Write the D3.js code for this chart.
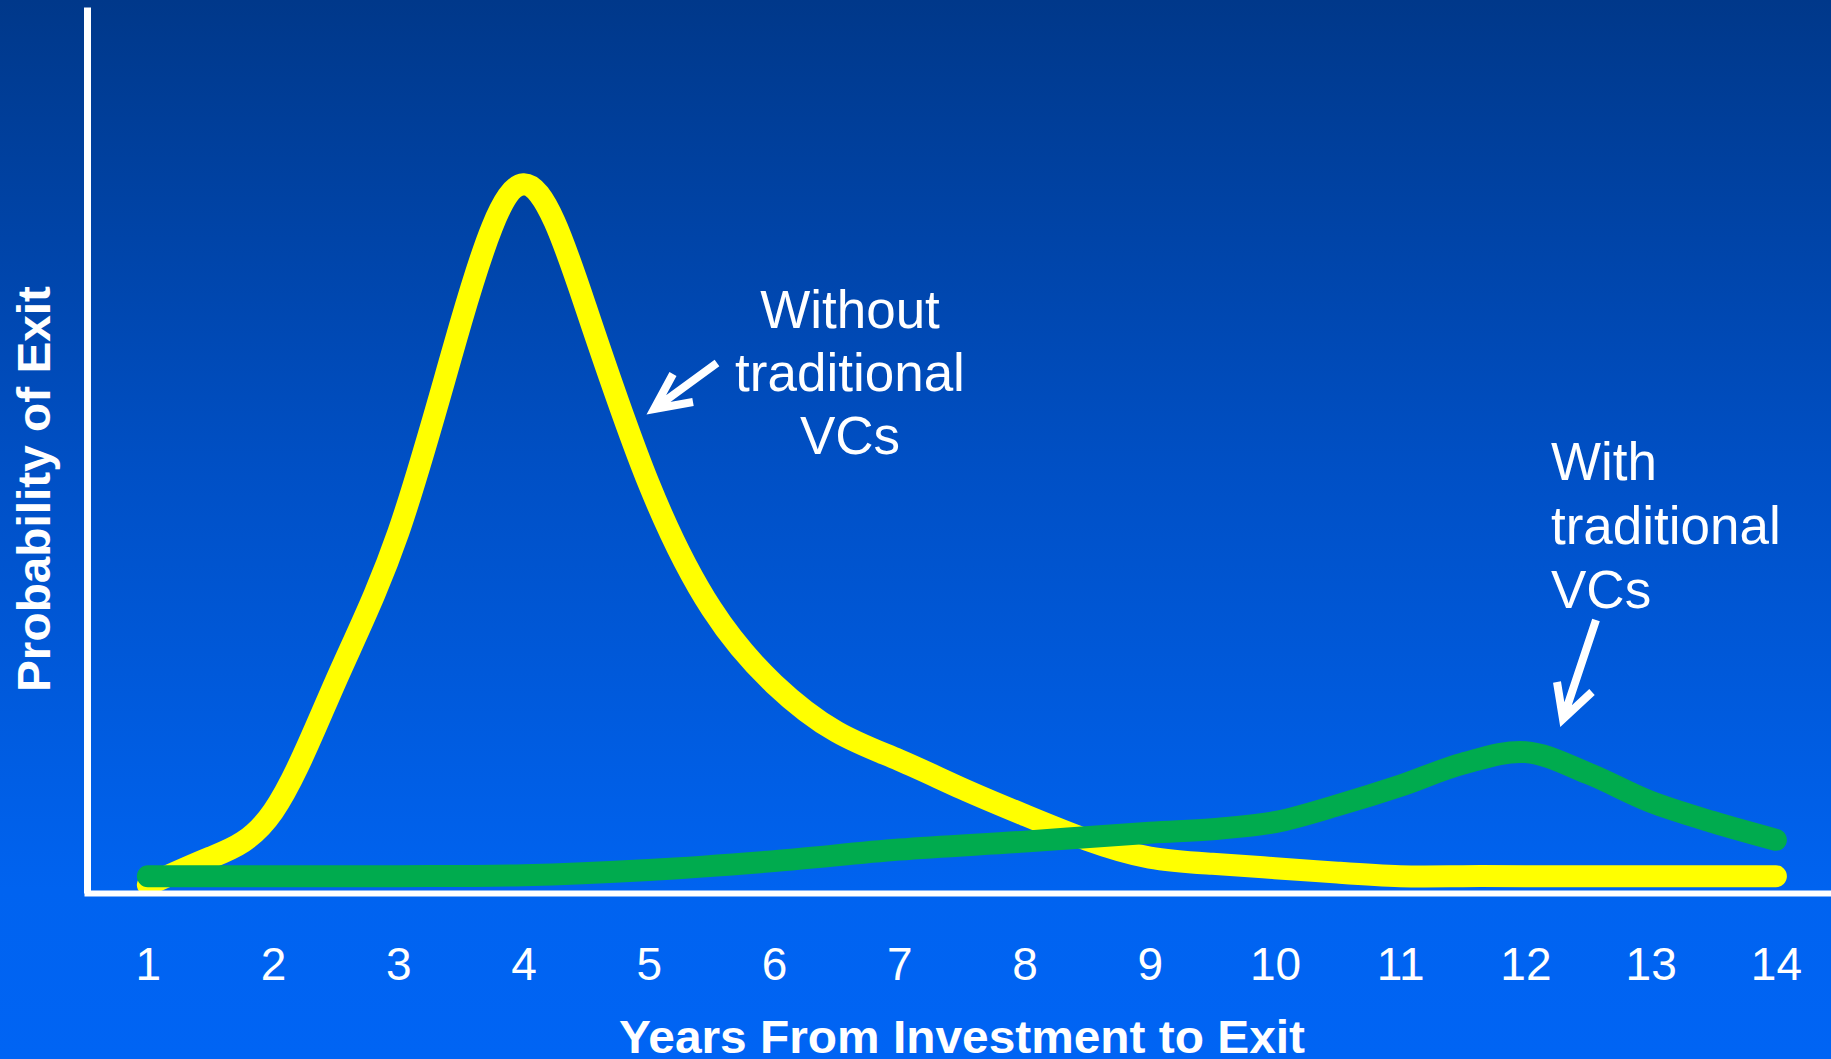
<!DOCTYPE html>
<html>
<head>
<meta charset="utf-8">
<script src="https://cdn.jsdelivr.net/npm/d3@7"></script>
<style>
  html, body { margin: 0; padding: 0; background: #0063f2; overflow: hidden; }
  svg { display: block; }
  .tick text { fill: #fff; font-family: "Liberation Sans", Arial, sans-serif; }
</style>
</head>
<body>
<div id="chart"></div>
<script>
// years from investment to exit (axis labels)
const yearTicks = [1, 2, 3, 4, 5, 6, 7, 8, 9, 10, 11, 12, 13, 14];

// "without traditional VCs" curve (probability, arbitrary units)
const withoutYears  = [1, 1.5, 2, 2.5, 3, 3.5, 4, 4.5, 5, 5.5, 6, 6.5, 7, 7.5, 8, 8.5, 9, 9.5, 10, 10.5, 11, 11.5, 12, 12.5, 13, 13.5, 14];
const withoutValues = [0.9, 4.0, 9.2, 23.9, 40.7, 64.4, 80.0, 66.0, 46.2, 32.1, 23.6, 18.2, 15.0, 11.8, 8.8, 6.0, 4.0, 3.3, 2.8, 2.3, 1.9, 1.9, 1.9, 1.9, 1.9, 1.9, 1.9];

// "with traditional VCs" curve
const withYears  = [1, 2, 3, 4, 5, 6, 7, 8, 9, 9.5, 10, 10.5, 11, 11.5, 12, 12.5, 13, 13.5, 14];
const withValues = [1.9, 1.9, 1.9, 2.0, 2.6, 3.6, 4.9, 5.8, 6.8, 7.2, 8.0, 9.9, 12.1, 14.6, 15.9, 13.5, 10.3, 8.0, 6.0];

const width = 1831, height = 1059;

const svg = d3.select("#chart").append("svg")
  .attr("width", width).attr("height", height);

// slide background gradient
const grad = svg.append("defs").append("linearGradient")
  .attr("id", "bg").attr("x1", 0).attr("y1", 0).attr("x2", 0).attr("y2", 1);
grad.append("stop").attr("offset", "0%").attr("stop-color", "#00388a");
grad.append("stop").attr("offset", "45%").attr("stop-color", "#0050c6");
grad.append("stop").attr("offset", "84%").attr("stop-color", "#0063f0");
grad.append("stop").attr("offset", "100%").attr("stop-color", "#0064f4");
svg.append("rect").attr("width", width).attr("height", height).attr("fill", "url(#bg)");

const xScale = d3.scaleLinear().domain([0.49, 14.44]).range([84, 1831]);
const yScale = d3.scaleLinear().domain([0, 100]).range([893, 7]);

const line = d3.line()
  .x(d => xScale(d[0])).y(d => yScale(d[1]))
  .curve(d3.curveNatural);

// curves: yellow first, green over it
svg.append("path")
  .datum(d3.zip(withoutYears, withoutValues))
  .attr("d", line).attr("fill", "none")
  .attr("stroke", "#ffff00").attr("stroke-width", 22)
  .attr("stroke-linecap", "round").attr("stroke-linejoin", "round");

svg.append("path")
  .datum(d3.zip(withYears, withValues))
  .attr("d", line.curve(d3.curveCatmullRom.alpha(0.5))).attr("fill", "none")
  .attr("stroke", "#00ab4e").attr("stroke-width", 22)
  .attr("stroke-linecap", "round").attr("stroke-linejoin", "round");

// axes
const xAxis = svg.append("g").attr("transform", "translate(0," + 893 + ")")
  .call(d3.axisBottom(xScale).tickValues(yearTicks).tickFormat(d => d)
    .tickSize(0).tickSizeOuter(0).tickPadding(54));
xAxis.select(".domain").attr("stroke", "#fff").attr("stroke-width", 6);
xAxis.selectAll(".tick text").attr("font-size", 46);

const yAxis = svg.append("g").attr("transform", "translate(87,0)")
  .call(d3.axisLeft(yScale).tickValues([]).tickSizeOuter(0));
yAxis.select(".domain").attr("stroke", "#fff").attr("stroke-width", 7);

// axis titles (the x title is clipped by the slide edge in the original too)
svg.append("text")
  .attr("x", 962).attr("y", 1053)
  .attr("text-anchor", "middle")
  .attr("font-family", "Liberation Sans, Arial, sans-serif")
  .attr("font-weight", "bold").attr("font-size", 47)
  .attr("fill", "#fff")
  .attr("textLength", 686).attr("lengthAdjust", "spacingAndGlyphs")
  .text("Years From Investment to Exit");

svg.append("text")
  .attr("transform", "translate(50,489) rotate(-90)")
  .attr("text-anchor", "middle")
  .attr("font-family", "Liberation Sans, Arial, sans-serif")
  .attr("font-weight", "bold").attr("font-size", 46)
  .attr("fill", "#fff")
  .attr("textLength", 406).attr("lengthAdjust", "spacingAndGlyphs")
  .text("Probability of Exit");

// annotations
const note1 = svg.append("text")
  .attr("font-family", "Liberation Sans, Arial, sans-serif")
  .attr("font-size", 53).attr("fill", "#fff").attr("text-anchor", "middle");
["Without", "traditional", "VCs"].forEach((t, i) =>
  note1.append("tspan").attr("x", 850).attr("y", 328 + i * 63).text(t));

const note2 = svg.append("text")
  .attr("font-family", "Liberation Sans, Arial, sans-serif")
  .attr("font-size", 53).attr("fill", "#fff");
["With", "traditional", "VCs"].forEach((t, i) =>
  note2.append("tspan").attr("x", 1551).attr("y", 480 + i * 64).text(t));

// arrows
const arrow = (tail, tip, l, r) => "M" + tail + "L" + tip + "M" + l + "L" + tip + "L" + r;
svg.append("path")
  .attr("d", arrow([717, 363], [654, 409], [673, 374], [693, 402]))
  .attr("fill", "none").attr("stroke", "#fff").attr("stroke-width", 8)
  .attr("stroke-linejoin", "miter");
svg.append("path")
  .attr("d", arrow([1596, 620], [1563, 719], [1557, 682], [1592, 692]))
  .attr("fill", "none").attr("stroke", "#fff").attr("stroke-width", 8)
  .attr("stroke-linejoin", "miter");
</script>
</body>
</html>
